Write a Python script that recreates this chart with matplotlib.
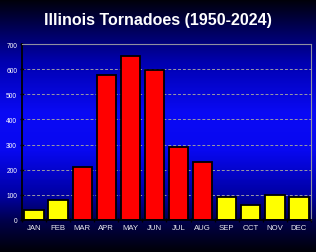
import numpy as np
import matplotlib
matplotlib.use("Agg")
import matplotlib.pyplot as plt
from matplotlib.colors import LinearSegmentedColormap

months = ["JAN", "FEB", "MAR", "APR", "MAY", "JUN", "JUL", "AUG", "SEP", "OCT", "NOV", "DEC"]
counts = [41, 81, 211, 575, 651, 595, 291, 231, 93, 61, 99, 93]
bar_colors = ["#ffff00", "#ffff00", "#ff0000", "#ff0000", "#ff0000", "#ff0000",
              "#ff0000", "#ff0000", "#ffff00", "#ffff00", "#ffff00", "#ffff00"]
yticks = [0, 100, 200, 300, 400, 500, 600, 700]

plt.rcParams['font.family'] = ['Liberation Sans', 'DejaVu Sans']

fig = plt.figure(figsize=(3.16, 2.53), dpi=100)

# background gradient
bg = fig.add_axes([0, 0, 1, 1], zorder=0)
cmap = LinearSegmentedColormap.from_list("bg", [
    (0.0, "#000008"), (0.12, "#00005a"), (0.25, "#0000b0"), (0.45, "#0a0af5"),
    (0.6, "#0808f0"), (0.78, "#0000a0"), (0.88, "#00004a"), (1.0, "#000008")])
grad = np.linspace(0, 1, 256).reshape(-1, 1)
bg.imshow(grad, aspect="auto", cmap=cmap, extent=[0, 1, 0, 1], origin="upper")
bg.set_axis_off()

ax = fig.add_axes([22/316, 1-221/253, (311-22)/316, (221-45)/253], zorder=1)
ax.set_facecolor("none")
x = np.arange(len(months))
ax.bar(x, counts, width=0.8, color=bar_colors, edgecolor="black", linewidth=1.3, zorder=3)
ax.set_xlim(-0.5, len(months) - 0.5)
ax.set_ylim(0, 700)
ax.set_yticks(yticks)
ax.set_yticklabels([str(v) for v in yticks], color="white", fontsize=4.8)
ax.set_xticks(x)
ax.set_xticklabels(months, color="#e8e8f0", fontsize=5.6)
ax.set_xticks(np.arange(len(months) + 1) - 0.5, minor=True)
ax.tick_params(axis="x", which="major", length=0, pad=3)
ax.tick_params(axis="x", which="minor", length=3, direction="inout", color="black", width=1)
ax.tick_params(axis="y", length=3, direction="inout", color="black", width=1, pad=2)
for v in yticks[1:-1]:
    ax.axhline(v, color="#9a9aa4", linestyle=(0, (3, 2)), linewidth=0.7, zorder=1)
ax.spines["left"].set_color("black")
ax.spines["left"].set_linewidth(1.3)
ax.spines["bottom"].set_color("black")
ax.spines["bottom"].set_linewidth(1.3)
ax.spines["top"].set_color("#9090a0")
ax.spines["top"].set_linewidth(0.8)
ax.spines["right"].set_color("#9090a0")
ax.spines["right"].set_linewidth(0.8)
for s in ax.spines.values():
    s.set_zorder(4)

fig.text(0.5, 1-21/253, "Illinois Tornadoes (1950-2024)", ha="center", va="center",
         color="white", fontsize=11.5, fontweight="bold")

fig.savefig("out.png", dpi=100)
